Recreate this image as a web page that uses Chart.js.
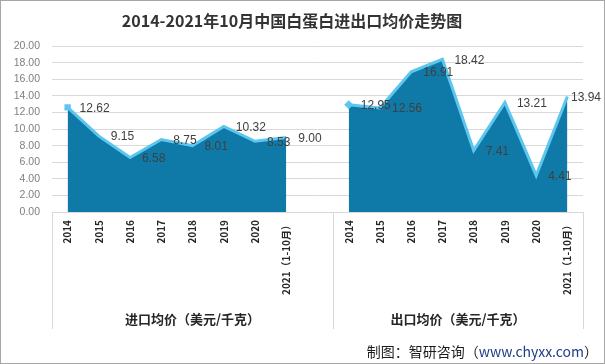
<!DOCTYPE html>
<html>
<head>
<meta charset="utf-8">
<script src="https://cdn.jsdelivr.net/npm/chart.js@4.4.1/dist/chart.umd.min.js"></script>
<style>
  html, body { margin: 0; padding: 0; background: #fff; }
  #wrap { width: 605px; height: 364px; border: 1px solid #a6a6a6; box-sizing: border-box; }
  canvas { display: block; }
</style>
</head>
<body>
<div id="wrap"><canvas id="priceChart" width="603" height="362"></canvas></div>
<script>
// Values
const years = ['2014', '2015', '2016', '2017', '2018', '2019', '2020', '2021（1-10月）'];
const importPrice = [12.62, 9.15, 6.58, 8.75, 8.01, 10.32, 8.53, 9.00];
const exportPrice = [12.95, 12.56, 16.91, 18.42, 7.41, 13.21, 4.41, 13.94];
const groupNames = ['进口均价（美元/千克）', '出口均价（美元/千克）'];
const yTicks = [0, 2, 4, 6, 8, 10, 12, 14, 16, 18, 20];

// One category axis: 8 import slots, one empty slot, 8 export slots
const labels = [...years, '', ...years];
const gap = years.length + 1;
const importData = [...importPrice, ...new Array(gap).fill(null)];
const exportData = [...new Array(gap).fill(null), ...exportPrice];

const areaFill = '#0f79a7';
const lineBlue = '#5cc6ef';
const gridGray = '#d9d9d9';
const cjk = '"Noto Sans CJK SC", "Liberation Sans", sans-serif';
const latin = '"Liberation Sans", "Noto Sans CJK SC", sans-serif';

// Draws value labels to the right of each point
const valueLabels = {
    id: 'valueLabels',
    afterDatasetsDraw(chart) {
        const ctx = chart.ctx;
        ctx.save();
        ctx.font = '12px ' + latin;
        ctx.fillStyle = '#404040';
        ctx.textAlign = 'left';
        ctx.textBaseline = 'middle';
        chart.data.datasets.forEach((ds, i) => {
            const meta = chart.getDatasetMeta(i);
            meta.data.forEach((pt, j) => {
                if (ds.data[j] === null) return;
                const txt = ds.data[j].toFixed(2);
                const w = ctx.measureText(txt).width;
                // keep the label inside the picture, like the original does
                const lx = Math.min(pt.x + 12, chart.width - 3 - w);
                ctx.fillText(txt, lx, pt.y + 1);
            });
        });
        ctx.restore();
    }
};

// Group dividers under the axis, group names and source note
const groupAxis = {
    id: 'groupAxis',
    afterDraw(chart) {
        const ctx = chart.ctx;
        const area = chart.chartArea;
        const x = chart.scales.x;
        const splitX = (x.getPixelForValue(years.length) + x.getPixelForValue(years.length + 1)) / 2;
        ctx.save();
        ctx.strokeStyle = gridGray;
        ctx.lineWidth = 1;
        [area.left, splitX, area.right].forEach(px => {
            const xx = Math.round(px) + 0.5;
            ctx.beginPath();
            ctx.moveTo(xx, area.bottom);
            ctx.lineTo(xx, area.bottom + 117);
            ctx.stroke();
        });

        ctx.font = 'bold 13px ' + cjk;
        ctx.fillStyle = '#262626';
        ctx.textAlign = 'center';
        ctx.textBaseline = 'middle';
        ctx.fillText(groupNames[0], (area.left + splitX) / 2, area.bottom + 107);
        ctx.fillText(groupNames[1], (splitX + area.right) / 2, area.bottom + 107);

        // source note, right aligned
        ctx.font = '14px ' + cjk;
        ctx.textAlign = 'left';
        const p1 = '制图：智研咨询（', p2 = 'www.chyxx.com', p3 = '）';
        const w1 = ctx.measureText(p1).width, w2 = ctx.measureText(p2).width, w3 = ctx.measureText(p3).width;
        let sx = 597 - (w1 + w2 + w3);
        const sy = 351;
        ctx.fillStyle = '#1a1a1a';
        ctx.fillText(p1, sx, sy);
        ctx.fillStyle = '#1f3c88';
        ctx.fillText(p2, sx + w1, sy);
        ctx.fillStyle = '#1a1a1a';
        ctx.fillText(p3, sx + w1 + w2, sy);
        ctx.restore();
    }
};

function firstPoint(data) {
    return data.findIndex(v => v !== null);
}

function areaSet(label, data, style) {
    const first = firstPoint(data);
    return {
        label: label,
        data: data,
        fill: 'origin',
        backgroundColor: areaFill,
        borderColor: lineBlue,
        borderWidth: 3,
        tension: 0,
        pointStyle: style,
        pointRadius: ctx => ctx.dataIndex === first ? 4.5 : 0,
        pointBackgroundColor: lineBlue,
        pointBorderWidth: 0
    };
}

const ctx = document.getElementById('priceChart').getContext('2d');
const priceChart = new Chart(ctx, {
    type: 'line',
    data: {
        labels: labels,
        datasets: [
            areaSet('进口均价', importData, 'rect'),
            areaSet('出口均价', exportData, 'rectRot')
        ]
    },
    options: {
        responsive: false,
        animation: false,
        layout: { padding: { left: 0, right: 21, top: 0, bottom: 0 } },
        plugins: {
            legend: { display: false },
            tooltip: { enabled: false },
            title: {
                display: true,
                text: '2014-2021年10月中国白蛋白进出口均价走势图',
                font: { family: cjk, size: 16, weight: 'bold' },
                color: '#333333',
                padding: { top: 10, bottom: 16 }
            }
        },
        scales: {
            x: {
                offset: true,
                grid: { display: false, drawTicks: false },
                border: { display: true, color: gridGray },
                ticks: {
                    autoSkip: false,
                    minRotation: 90,
                    maxRotation: 90,
                    padding: 8,
                    color: '#262626',
                    font: { family: cjk, size: 10, weight: 'bold' }
                },
                afterFit(scale) { scale.height = 151; }
            },
            y: {
                min: 0,
                max: 20,
                afterBuildTicks(scale) { scale.ticks = yTicks.map(v => ({ value: v })); },
                grid: { color: gridGray, drawTicks: false },
                border: { display: false },
                ticks: {
                    padding: 12,
                    color: '#7f7f7f',
                    font: { family: latin, size: 10.5 },
                    callback: v => Number(v).toFixed(2)
                },
                afterFit(scale) { scale.width = 51; }
            }
        }
    },
    plugins: [valueLabels, groupAxis]
});
</script>
</body>
</html>
